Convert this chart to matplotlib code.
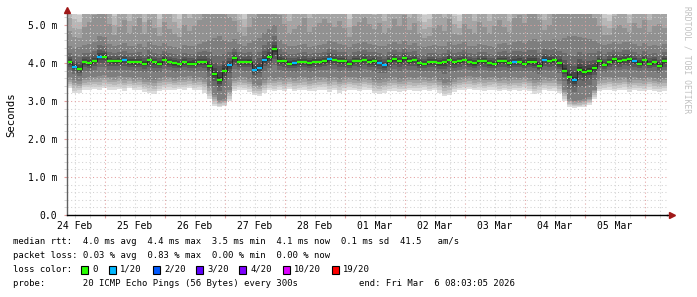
import numpy as np
import pandas as pd
import matplotlib
matplotlib.use("Agg")
import matplotlib.pyplot as plt
import matplotlib.dates as mdates
from matplotlib.ticker import MultipleLocator, FuncFormatter, NullFormatter
from matplotlib.patches import Rectangle

# ---------------- data (ms), 2-hour bins ----------------
start_time = "2026-02-24 08:48"
bin_freq = "2h"

median = [
    4.03, 3.90, 3.83, 4.02, 3.99, 4.05, 4.17, 4.16, 4.05, 4.04,
    4.04, 4.08, 4.02, 4.02, 4.02, 3.98, 4.07, 4.02, 3.98, 4.09,
    4.02, 3.99, 3.97, 4.02, 3.98, 3.98, 4.02, 4.02, 3.92, 3.70,
    3.55, 3.80, 3.95, 4.12, 4.02, 4.02, 4.03, 3.81, 3.87, 4.08,
    4.15, 4.36, 4.06, 4.04, 3.98, 3.99, 4.02, 4.02, 3.99, 4.02,
    4.02, 4.04, 4.10, 4.08, 4.05, 4.04, 3.97, 4.05, 4.05, 4.08,
    4.03, 4.04, 4.00, 3.94, 4.04, 4.10, 4.05, 4.12, 4.04, 4.08,
    3.99, 3.97, 4.02, 4.02, 3.99, 4.02, 4.09, 4.02, 4.04, 4.08,
    4.02, 3.99, 4.04, 4.04, 3.99, 3.98, 4.04, 4.04, 3.99, 4.02,
    4.02, 3.98, 4.02, 4.02, 3.92, 4.08, 4.05, 4.07, 3.99, 3.80,
    3.62, 3.54, 3.82, 3.76, 3.80, 3.86, 4.04, 3.94, 4.02, 4.10,
    4.04, 4.08, 4.10, 4.04, 3.98, 4.08, 3.97, 4.02, 3.92, 4.04,
]

lost_pings = [
    0, 1, 0, 0, 0, 0, 1, 0, 0, 0,
    0, 1, 0, 0, 0, 0, 0, 0, 0, 0,
    0, 0, 0, 0, 0, 0, 0, 0, 0, 0,
    0, 0, 1, 0, 0, 0, 0, 1, 1, 1,
    0, 0, 0, 0, 0, 1, 0, 0, 0, 0,
    0, 0, 1, 0, 0, 0, 0, 0, 0, 0,
    0, 0, 1, 1, 0, 0, 0, 0, 0, 0,
    0, 0, 0, 0, 0, 0, 0, 0, 0, 0,
    0, 0, 0, 0, 0, 0, 0, 0, 0, 1,
    0, 0, 0, 0, 0, 1, 0, 0, 0, 0,
    0, 1, 0, 0, 0, 0, 0, 0, 0, 0,
    0, 0, 0, 1, 0, 0, 0, 0, 0, 0,
]

smoke_min = [
    3.33, 3.20, 3.22, 3.30, 3.29, 3.31, 3.28, 3.33, 3.30, 3.29,
    3.31, 3.27, 3.33, 3.29, 3.30, 3.24, 3.20, 3.18, 3.26, 3.29,
    3.30, 3.28, 3.31, 3.29, 3.33, 3.28, 3.30, 3.22, 3.05, 2.88,
    2.84, 2.86, 3.00, 3.26, 3.30, 3.28, 3.24, 3.15, 3.14, 3.22,
    3.28, 3.26, 3.29, 3.25, 3.31, 3.26, 3.28, 3.29, 3.25, 3.27,
    3.29, 3.30, 3.24, 3.28, 3.22, 3.27, 3.30, 3.28, 3.26, 3.30,
    3.28, 3.20, 3.18, 3.22, 3.26, 3.27, 3.24, 3.25, 3.28, 3.26,
    3.27, 3.29, 3.26, 3.28, 3.22, 3.12, 3.15, 3.24, 3.28, 3.30,
    3.31, 3.28, 3.30, 3.27, 3.29, 3.30, 3.26, 3.28, 3.25, 3.28,
    3.27, 3.30, 3.26, 3.18, 3.22, 3.28, 3.26, 3.27, 3.20, 3.00,
    2.84, 2.82, 2.83, 2.85, 2.90, 3.05, 3.26, 3.28, 3.30, 3.26,
    3.28, 3.30, 3.24, 3.28, 3.27, 3.25, 3.30, 3.26, 3.24, 3.27,
]

smoke_lo = [
    3.62, 3.55, 3.52, 3.60, 3.62, 3.64, 3.66, 3.68, 3.64, 3.63,
    3.65, 3.62, 3.64, 3.60, 3.62, 3.58, 3.56, 3.55, 3.60, 3.63,
    3.64, 3.60, 3.62, 3.63, 3.65, 3.60, 3.62, 3.58, 3.40, 3.15,
    3.02, 3.05, 3.30, 3.60, 3.63, 3.62, 3.58, 3.45, 3.42, 3.55,
    3.62, 3.60, 3.63, 3.60, 3.64, 3.60, 3.62, 3.64, 3.60, 3.62,
    3.63, 3.64, 3.60, 3.63, 3.58, 3.62, 3.64, 3.62, 3.60, 3.64,
    3.62, 3.56, 3.54, 3.57, 3.60, 3.62, 3.58, 3.60, 3.63, 3.61,
    3.62, 3.63, 3.60, 3.62, 3.56, 3.48, 3.50, 3.58, 3.62, 3.64,
    3.65, 3.62, 3.64, 3.61, 3.63, 3.64, 3.60, 3.62, 3.60, 3.62,
    3.61, 3.64, 3.60, 3.54, 3.56, 3.62, 3.60, 3.61, 3.52, 3.30,
    3.05, 3.00, 3.02, 3.05, 3.10, 3.30, 3.58, 3.62, 3.64, 3.60,
    3.62, 3.64, 3.58, 3.62, 3.61, 3.60, 3.64, 3.60, 3.58, 3.61,
]

smoke_hi = [
    4.45, 4.40, 4.42, 4.48, 4.50, 4.55, 4.70, 4.68, 4.50, 4.45,
    4.48, 4.52, 4.44, 4.46, 4.50, 4.42, 4.55, 4.48, 4.44, 4.52,
    4.45, 4.42, 4.40, 4.48, 4.44, 4.46, 4.50, 4.55, 4.60, 4.65,
    4.70, 4.60, 4.55, 4.62, 4.50, 4.45, 4.52, 4.60, 4.65, 4.80,
    4.90, 5.00, 4.60, 4.50, 4.44, 4.46, 4.48, 4.50, 4.42, 4.46,
    4.48, 4.50, 4.58, 4.55, 4.50, 4.48, 4.42, 4.50, 4.52, 4.55,
    4.50, 4.48, 4.46, 4.44, 4.50, 4.56, 4.50, 4.58, 4.48, 4.52,
    4.45, 4.42, 4.46, 4.48, 4.44, 4.46, 4.55, 4.48, 4.50, 4.54,
    4.46, 4.44, 4.50, 4.48, 4.44, 4.42, 4.50, 4.52, 4.48, 4.55,
    4.58, 4.52, 4.60, 4.62, 4.55, 4.60, 4.58, 4.62, 4.60, 4.65,
    4.70, 4.72, 4.68, 4.65, 4.62, 4.58, 4.52, 4.48, 4.50, 4.55,
    4.50, 4.54, 4.56, 4.50, 4.46, 4.52, 4.44, 4.48, 4.45, 4.50,
]

smoke_max = [
    6.0, 5.5, 5.4, 6.4, 6.8, 7.4, 8.0, 7.6, 6.6, 5.6,
    6.3, 7.0, 5.8, 6.5, 7.2, 5.8, 6.9, 6.2, 5.5, 6.8,
    6.2, 5.8, 5.5, 6.6, 6.0, 6.5, 7.0, 7.5, 8.0, 8.3,
    8.6, 8.0, 7.2, 6.6, 5.8, 5.5, 6.2, 7.0, 7.8, 8.4,
    9.0, 9.5, 7.2, 6.6, 5.8, 6.2, 6.6, 7.2, 6.0, 6.4,
    6.8, 7.1, 6.5, 6.1, 6.9, 6.2, 5.5, 6.4, 6.8, 7.2,
    6.6, 6.1, 6.8, 5.8, 6.2, 7.0, 6.4, 7.3, 6.0, 6.6,
    5.8, 5.4, 5.5, 6.2, 6.7, 6.0, 7.0, 5.6, 5.4, 6.5,
    6.2, 5.8, 6.8, 6.4, 5.8, 6.6, 7.0, 6.2, 5.8, 7.1,
    7.3, 6.6, 7.6, 7.9, 6.9, 5.7, 6.3, 7.5, 7.8, 8.4,
    8.8, 9.2, 8.6, 8.2, 7.6, 7.0, 6.3, 5.5, 5.4, 6.0,
    6.5, 6.1, 5.6, 6.7, 6.3, 7.0, 5.9, 6.5, 6.8, 6.2,
]

loss_labels = ["0", "1/20", "2/20", "3/20", "4/20", "10/20", "19/20"]
loss_levels = [0, 1, 2, 3, 4, 10, 19]
loss_colors = ["#26ff00", "#00b8ff", "#0059ff", "#5e00ff", "#7e00ff", "#dd00ff", "#ff0000"]

legend_rtt = "median rtt:  4.0 ms avg  4.4 ms max  3.5 ms min  4.1 ms now  0.1 ms sd  41.5   am/s"
legend_loss = "packet loss: 0.03 % avg  0.83 % max  0.00 % min  0.00 % now"
legend_probe = "probe:       20 ICMP Echo Pings (56 Bytes) every 300s"
legend_end = "end: Fri Mar  6 08:03:05 2026"
watermark = "RRDTOOL / TOBI OETIKER"

# ---------------- figure ----------------
W, H = 697, 297
MONO = "DejaVu Sans Mono"
plt.rcParams["font.family"] = [MONO, "DejaVu Sans"]

fig = plt.figure(figsize=(W / 100, H / 100), dpi=100)
fig.patch.set_facecolor("white")
ax = fig.add_axes([67 / W, (H - 215) / H, 600 / W, (215 - 13.6) / H])
ax.set_facecolor("white")

n = len(median)
edges = mdates.date2num(pd.date_range(start_time, periods=n + 1, freq=bin_freq).to_pydatetime())
med = np.array(median)
pmin = np.array(smoke_min)
plo = np.array(smoke_lo)
phi = np.array(smoke_hi)
pmax = np.array(smoke_max)

# smoke shading: 10 grey bands on each side of the median (outer light -> inner dark)
grays = [221, 202, 183, 164, 145, 126, 107, 88, 69, 50]
low_outer_frac = [0.0, 0.2, 0.4, 0.6, 0.8, 1.0]       # min -> lo
up_outer_frac = [0.0, 0.15, 0.32, 0.52, 0.75, 1.0]    # max -> hi
inner_frac = [0.0, 0.45, 0.68, 0.82, 0.92, 1.0]       # lo/hi -> median


def lower_level(k):
    if k <= 5:
        return pmin + (plo - pmin) * low_outer_frac[k]
    return plo + (med - plo) * inner_frac[k - 5]


def upper_level(k):
    if k <= 5:
        return pmax - (pmax - phi) * up_outer_frac[k]
    return phi - (phi - med) * inner_frac[k - 5]


for k in range(10):
    g = grays[k] / 255.0
    col = (g, g, g)
    ax.stairs(lower_level(k + 1), edges, baseline=lower_level(k), fill=True,
              color=col, linewidth=0, antialiased=False, zorder=1)
    ax.stairs(upper_level(k), edges, baseline=upper_level(k + 1), fill=True,
              color=col, linewidth=0, antialiased=False, zorder=1)

# median: thin dark step line + loss coloured segments
ax.stairs(med, edges, baseline=None, color="#202020", linewidth=0.6, zorder=3)
lp = np.array(lost_pings)
for lvl, c in zip(loss_levels, loss_colors):
    m = lp == lvl
    if m.any():
        ax.hlines(med[m], edges[:-1][m], edges[1:][m], colors=c, linewidth=1.6,
                  zorder=4, capstyle="butt")

ax.set_xlim(edges[0], edges[-1])
ax.set_ylim(0, 5.3)

# grid
ax.set_axisbelow(False)
ax.yaxis.set_major_locator(MultipleLocator(1.0))
ax.yaxis.set_minor_locator(MultipleLocator(0.2))
ax.yaxis.set_major_formatter(FuncFormatter(lambda v, p: "0.0" if abs(v) < 1e-9 else f"{v:.1f} m"))
ax.xaxis.set_major_locator(mdates.DayLocator())
ax.xaxis.set_minor_locator(mdates.HourLocator(byhour=[0, 6, 12, 18]))
ax.xaxis.set_major_formatter(NullFormatter())
ax.grid(which="major", color="#e4a0a0", linestyle=(0, (1, 2.5)), linewidth=0.75)
ax.grid(which="minor", color="#d2d2d2", linestyle=(0, (1, 2.5)), linewidth=0.75)

ax.tick_params(axis="y", which="major", length=2, color="#e4a0a0", labelsize=7, pad=5,
               labelcolor="#000000")
ax.tick_params(axis="y", which="minor", length=2, color="#d2d2d2")
ax.tick_params(axis="x", which="major", length=2, color="#e4a0a0")
ax.tick_params(axis="x", which="minor", length=2, color="#d2d2d2")

sec = ax.secondary_xaxis("bottom")
sec.xaxis.set_major_locator(mdates.HourLocator(byhour=[12]))
sec.xaxis.set_major_formatter(mdates.DateFormatter("%d %b"))
sec.tick_params(axis="x", length=0, labelsize=7, pad=4, labelcolor="#000000")
sec.spines["bottom"].set_visible(False)
sec.xaxis.set_minor_locator(mdates.HourLocator(byhour=[12]))
sec.tick_params(axis="x", which="minor", length=0)

for s in ["top", "right"]:
    ax.spines[s].set_visible(False)
ax.spines["left"].set_color("#606060")
ax.spines["left"].set_linewidth(1.0)
ax.spines["bottom"].set_color("#000000")
ax.spines["bottom"].set_linewidth(1.0)
ax.spines["left"].set_zorder(5)
ax.spines["bottom"].set_zorder(5)

# arrows
ax.plot([1.008], [0], marker=">", transform=ax.transAxes, color="#a01818",
        markersize=4, clip_on=False, zorder=6)
ax.plot([0], [1.018], marker="^", transform=ax.transAxes, color="#a01818",
        markersize=4, clip_on=False, zorder=6)
ax.plot([1.0, 1.008], [0, 0], transform=ax.transAxes, color="#000000", lw=1.0,
        clip_on=False, zorder=5)

ax.set_ylabel("Seconds", fontsize=7.7)
ax.yaxis.set_label_coords((16 - 67) / 600, 0.5)

# watermark
fig.text(687.5 / W, 1 - 60 / H, watermark, rotation=-90, ha="center", va="center",
         fontsize=5.8, color="#c0c0c0")

# legend rows
FS = 6.4
x0 = 13.5 / W
fig.text(x0, 1 - 241 / H, legend_rtt, fontsize=FS, va="center", ha="left")
fig.text(x0, 1 - 255 / H, legend_loss, fontsize=FS, va="center", ha="left")
fig.text(x0, 1 - 269 / H, "loss color:", fontsize=FS, va="center", ha="left")
box_x = [81, 109, 153, 196, 239, 283, 332]
for bx, lab, c in zip(box_x, loss_labels, loss_colors):
    fig.patches.append(Rectangle((bx / W, 1 - 273.5 / H), 6.5 / W, 8 / H,
                                 transform=fig.transFigure, facecolor=c,
                                 edgecolor="#000000", linewidth=0.8))
    fig.text((bx + 11) / W, 1 - 269 / H, lab, fontsize=FS, va="center", ha="left")
fig.text(x0, 1 - 283 / H, legend_probe, fontsize=FS, va="center", ha="left")
fig.text(359 / W, 1 - 283 / H, legend_end, fontsize=FS, va="center", ha="left")

fig.savefig("out.png", dpi=100, facecolor="white")
